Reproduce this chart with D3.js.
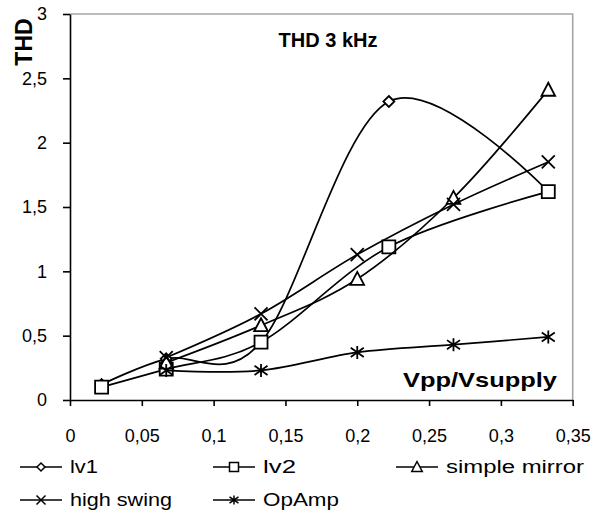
<!DOCTYPE html>
<html>
<head>
<meta charset="utf-8">
<script src="https://cdn.jsdelivr.net/npm/d3@7"></script>
<style>
  body { margin: 0; background: #fff; }
  svg { font-family: "Liberation Sans", Arial, sans-serif; }
</style>
</head>
<body>
<div id="chart"></div>
<script>
// series values: [Vpp/Vsupply, THD]
var lv1 = [[0.022, 0.12], [0.067, 0.32], [0.133, 0.45], [0.222, 2.32], [0.333, 1.62]];
var lv2 = [[0.022, 0.10], [0.067, 0.24], [0.133, 0.45], [0.222, 1.19], [0.333, 1.62]];
var simpleMirror = [[0.067, 0.29], [0.133, 0.58], [0.2, 0.94], [0.267, 1.57], [0.333, 2.41]];
var highSwing = [[0.067, 0.33], [0.133, 0.67], [0.2, 1.13], [0.267, 1.52], [0.333, 1.85]];
var opAmp = [[0.067, 0.23], [0.133, 0.23], [0.2, 0.37], [0.267, 0.43], [0.333, 0.49]];

var seriesNames = ["lv1", "lv2", "simple mirror", "high swing", "OpAmp"];
var seriesMarkers = ["diamond", "square", "triangle", "x", "star"];

var xTicks = [0, 0.05, 0.1, 0.15, 0.2, 0.25, 0.3, 0.35];
var yTicks = [0, 0.5, 1, 1.5, 2, 2.5, 3];

var allSeries = [lv1, lv2, simpleMirror, highSwing, opAmp];

var width = 608, height = 513;
var margin = {top: 14, right: 35, bottom: 113, left: 70};

var svg = d3.select("#chart").append("svg")
    .attr("width", width)
    .attr("height", height);

var x = d3.scaleLinear()
    .domain([0, 0.35])
    .range([margin.left, 572.7]);
var y = d3.scaleLinear()
    .domain([0, 3])
    .range([400, margin.top]);

function comma(d) { return String(d).replace(".", ","); }

// plot area border (top and right are grey)
svg.append("path")
  .attr("d", "M" + x(0) + "," + y(3) + "H" + x(0.35) + "V" + y(0))
  .attr("fill", "none")
  .attr("stroke", "#a6a6a6")
  .attr("stroke-width", 1.6);

// axes
var yAxis = svg.append("g")
  .attr("transform", "translate(" + x(0) + ",0)")
  .call(d3.axisLeft(y).tickValues(yTicks).tickFormat(comma)
        .tickSize(7).tickSizeOuter(0).tickPadding(16));
var xAxis = svg.append("g")
  .attr("transform", "translate(0," + y(0) + ")")
  .call(d3.axisBottom(x).tickValues(xTicks).tickFormat(comma)
        .tickSize(6).tickSizeOuter(0).tickPadding(23));

svg.selectAll(".domain").attr("stroke", "#000").attr("stroke-width", 1.6);
svg.selectAll(".tick line").attr("stroke", "#000").attr("stroke-width", 1.6);
svg.selectAll(".tick text")
  .attr("fill", "#000")
  .style("font-size", "18px")
  .style("font-family", "Liberation Sans, Arial, sans-serif");

// marker shapes
function markerPath(type, s) {
  var h = s / 2;
  if (type == "diamond")
    return "M0," + (-h) + "L" + h + ",0L0," + h + "L" + (-h) + ",0Z";
  if (type == "square")
    return "M" + (-h) + "," + (-h) + "H" + h + "V" + h + "H" + (-h) + "Z";
  if (type == "triangle")
    return "M0," + (-h * 1.1) + "L" + h * 1.05 + "," + h * 0.9 + "L" + (-h * 1.05) + "," + h * 0.9 + "Z";
  if (type == "x")
    return "M" + (-h) + "," + (-h) + "L" + h + "," + h + "M" + (-h) + "," + h + "L" + h + "," + (-h);
  // star: x plus vertical stroke
  return "M" + (-h) + "," + (-h * 0.7) + "L" + h + "," + h * 0.7 +
         "M" + (-h) + "," + h * 0.7 + "L" + h + "," + (-h * 0.7) +
         "M0," + (-h) + "V" + h;
}

var line = d3.line()
    .x(function(d) { return x(d[0]); })
    .y(function(d) { return y(d[1]); })
    .curve(d3.curveCardinal.tension(0));

// lines and markers, drawn in series order
var markerSize = [11, 13, 13, 13, 13];
allSeries.forEach(function(data, i) {
  var g = svg.append("g").attr("class", "series");
  g.append("path")
    .attr("d", line(data))
    .attr("fill", "none")
    .attr("stroke", "#000")
    .attr("stroke-width", 1.7);
  g.selectAll(".marker")
    .data(data)
    .enter().append("path")
      .attr("class", "marker")
      .attr("transform", function(d) { return "translate(" + x(d[0]) + "," + y(d[1]) + ")"; })
      .attr("d", markerPath(seriesMarkers[i], markerSize[i]))
      .attr("fill", "#fff")
      .attr("stroke", "#000")
      .attr("stroke-width", 1.8);
});

// titles
svg.append("text")
  .attr("x", 328)
  .attr("y", 47)
  .attr("text-anchor", "middle")
  .style("font-size", "20px")
  .style("font-weight", "bold")
  .text("THD 3 kHz");

svg.append("text")
  .attr("transform", "translate(32,42) rotate(-90)")
  .attr("text-anchor", "middle")
  .style("font-size", "23px")
  .style("font-weight", "bold")
  .text("THD");

svg.append("text")
  .attr("x", 403)
  .attr("y", 387)
  .attr("textLength", 154)
  .attr("lengthAdjust", "spacingAndGlyphs")
  .style("font-size", "21px")
  .style("font-weight", "bold")
  .text("Vpp/Vsupply");

// legend
var legendPos = [[20, 467], [213, 467], [396, 467], [20, 500], [213, 500]];
var legendSize = [8, 9, 10, 9, 9];
var legendTextLen = [28, 33, 138, 102, 76];
seriesNames.forEach(function(name, i) {
  var lg = svg.append("g")
    .attr("transform", "translate(" + legendPos[i][0] + "," + legendPos[i][1] + ")");
  lg.append("line")
    .attr("x1", 0).attr("x2", 42)
    .attr("stroke", "#000")
    .attr("stroke-width", 1.6);
  lg.append("path")
    .attr("transform", "translate(21,0)")
    .attr("d", markerPath(seriesMarkers[i], legendSize[i]))
    .attr("fill", "#fff")
    .attr("stroke", "#000")
    .attr("stroke-width", 1.5);
  lg.append("text")
    .attr("x", 50)
    .attr("y", 6)
    .attr("textLength", legendTextLen[i])
    .attr("lengthAdjust", "spacingAndGlyphs")
    .style("font-size", "18px")
    .text(name);
});
</script>
</body>
</html>
